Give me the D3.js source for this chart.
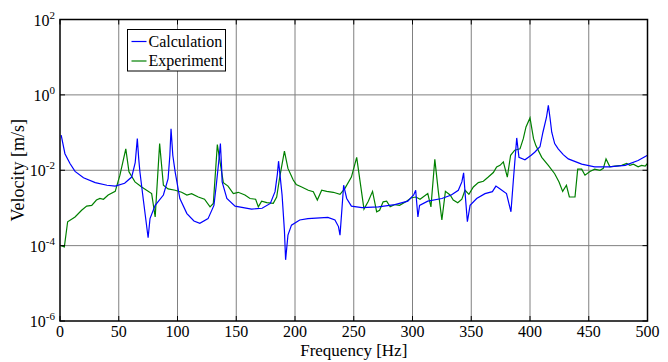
<!DOCTYPE html>
<html>
<head>
<meta charset="utf-8">
<script src="https://cdn.jsdelivr.net/npm/d3@7"></script>
<style>
  body { margin: 0; background: #fff; }
  svg { display: block; font-family: "Liberation Serif", "Times New Roman", serif; }
</style>
</head>
<body>
<div id="chart"></div>
<script>
// Calculation curve (blue): frequency [Hz] and velocity [m/s]
const calcFreq = [1, 4.2, 8.5, 12.8, 20, 30, 40, 47, 55, 61, 64, 65.8, 67, 68, 71, 75, 76.6, 81, 88, 92,
  93.5, 94.5, 96, 98, 102, 108, 114, 119, 126, 131, 133, 135, 136.5, 137.5, 138, 142, 149, 163, 172, 179,
  183, 185, 186, 187.5, 189, 191, 192, 194, 197, 204, 211, 228, 234, 237, 238.3, 240, 241.4, 244, 248, 257,
  271, 285, 296, 301, 302.7, 304.6, 306, 313, 325, 333, 339, 342, 343.5, 345, 346.7, 349, 354.6, 361.7, 368, 371,
  374, 380, 383.8, 386, 388.7, 390.6, 395.7, 401, 404, 408.5, 411, 414, 415.6, 417, 418.5, 421, 424, 428.3,
  432.6, 444, 455, 467, 481, 492, 500];
const calcVel = [8.5e-2, 2.75e-2, 1.51e-2, 9.3e-3, 6.3e-3, 4.7e-3, 4.0e-3, 3.8e-3, 4.5e-3, 6.6e-3, 1.58e-2, 6.9e-2, 2.0e-2, 9.1e-3, 1.58e-3, 1.62e-4, 5.2e-4, 1.17e-3, 2.2e-3, 6.0e-3,
  2.5e-2, 0.126, 2.5e-2, 9.1e-3, 1.78e-3, 7.1e-4, 4.5e-4, 3.9e-4, 5.2e-4, 1.17e-3, 4.0e-3, 1.58e-2, 5.1e-2, 1.26e-2, 4.9e-3, 1.78e-3, 1.12e-3, 9.3e-4, 9.8e-4, 1.32e-3,
  2.7e-3, 7.9e-3, 1.74e-2, 6.3e-3, 2.2e-3, 2.5e-4, 4.2e-5, 1.9e-4, 3.5e-4, 4.8e-4, 5.2e-4, 5.6e-4, 4.8e-4, 3.2e-4, 1.9e-4, 1.0e-3, 4.0e-3, 1.78e-3, 1.12e-3, 1.02e-3,
  1.07e-3, 1.23e-3, 1.51e-3, 2.2e-3, 2.95e-3, 5.75e-4, 1.17e-3, 1.51e-3, 1.78e-3, 2.2e-3, 2.95e-3, 4.9e-3, 8.5e-3, 2.0e-3, 4.3e-4, 1.17e-3, 1.78e-3, 2.4e-3, 2.7e-3, 3.8e-3,
  3.3e-3, 2.4e-3, 7.9e-4, 6.3e-3, 7.2e-2, 2.2e-2, 1.9e-2, 2.5e-2, 3.0e-2, 4.2e-2, 0.102, 0.251, 0.525, 0.251, 0.102, 5.1e-2, 3.7e-2, 2.6e-2,
  2.0e-2, 1.45e-2, 1.23e-2, 1.23e-2, 1.35e-2, 1.82e-2, 2.5e-2];

// Experiment curve (green)
const expFreq = [1, 3.7, 6.5, 12.8, 18.4, 22.7, 27, 31, 34, 37, 41, 47, 51, 56, 58.7, 63.8, 69.5, 78, 81, 84.8,
  88, 92, 98, 103.5, 108, 112, 117.7, 123, 127.7, 130.5, 133.9, 139, 143, 147.5, 151.7, 157.4, 161.7, 166.5, 168.8, 171.6,
  176, 181.5, 184.4, 187, 191, 194, 198.5, 201, 205.7, 211.3, 215.6, 219, 222.7, 227, 232.6, 238.3, 242.5, 248, 252.5, 258.7,
  262.4, 266, 269.5, 272, 275, 278, 281, 285, 289, 295, 299, 303, 306.4, 309, 313, 315.7, 319, 322, 325, 328,
  332, 334.7, 338.5, 342, 344.7, 348, 351.8, 356, 360.3, 364.5, 368.8, 371.6, 374.5, 377.3, 380.7, 383.5, 387, 391.5, 394.3, 396.6,
  400, 403, 405, 410, 415.6, 421, 424.7, 427.8, 431, 433.5, 438.3, 440.6, 444, 446.8, 451, 455, 459.6, 462.4, 464.7, 468,
  472.3, 478, 482.3, 485, 488, 492, 495, 498, 500];
const expVel = [1.0e-4, 9.3e-5, 4.3e-4, 5.75e-4, 8.7e-4, 1.12e-3, 1.17e-3, 1.62e-3, 1.78e-3, 1.7e-3, 2.2e-3, 2.75e-3, 7.4e-3, 3.7e-2, 9.1e-3, 4.9e-3, 3.6e-3, 2.4e-3, 5.75e-4, 5.1e-2,
  4.0e-3, 3.2e-3, 2.95e-3, 2.6e-3, 2.2e-3, 2.4e-3, 1.95e-3, 1.7e-3, 1.07e-3, 1.32e-3, 4.8e-2, 4.7e-3, 3.8e-3, 2.4e-3, 2.6e-3, 2.2e-3, 1.78e-3, 1.7e-3, 1.07e-3, 1.51e-3,
  1.38e-3, 1.32e-3, 1.95e-3, 6.6e-3, 3.2e-2, 1.12e-2, 5.5e-3, 4.2e-3, 3.6e-3, 2.95e-3, 2.7e-3, 1.62e-3, 2.95e-3, 2.75e-3, 2.6e-3, 2.3e-3, 3.3e-3, 6.6e-3, 2.2e-2, 9.3e-4,
  1.51e-3, 2.75e-3, 7.9e-4, 8.7e-4, 1.45e-3, 1.51e-3, 1.07e-3, 1.23e-3, 1.17e-3, 1.51e-3, 1.86e-3, 1.95e-3, 1.7e-3, 1.95e-3, 2.4e-3, 1.07e-3, 1.95e-2, 2.7e-3, 4.8e-4, 2.75e-3,
  2.2e-3, 1.62e-3, 1.38e-3, 1.7e-3, 2.95e-3, 2.3e-3, 3.6e-3, 4.7e-3, 5.1e-3, 6.6e-3, 8.7e-3, 1.23e-2, 1.35e-2, 1.66e-2, 6.6e-3, 2.5e-2, 3.4e-2, 3.7e-2, 6.9e-2, 0.141,
  0.245, 6.9e-2, 4.5e-2, 2.2e-2, 1.35e-2, 8.1e-3, 4.9e-3, 2.75e-3, 4.0e-3, 1.95e-3, 1.95e-3, 1.07e-2, 1.07e-2, 7.4e-3, 9.3e-3, 1.07e-2, 1.0e-2, 1.12e-2, 2.0e-2, 1.23e-2,
  1.29e-2, 1.35e-2, 1.51e-2, 1.35e-2, 1.45e-2, 1.23e-2, 1.35e-2, 1.29e-2, 1.51e-2];

const xTicks = [0, 50, 100, 150, 200, 250, 300, 350, 400, 450, 500];
const yTicks = [1e-6, 1e-4, 1e-2, 1e0, 1e2];
const seriesNames = ["Calculation", "Experiment"];

const width = 668, height = 362;
const margin = { top: 19.5, right: 20.5, bottom: 41, left: 60 };

const svg = d3.select("#chart").append("svg")
    .attr("width", width)
    .attr("height", height);

const x = d3.scaleLinear().domain([0, 500]).range([margin.left, width - margin.right]);
const y = d3.scaleLog().domain([1e-6, 1e2]).range([height - margin.bottom, margin.top]);

// grid
svg.append("g")
    .selectAll("line")
    .data(xTicks.slice(1, -1))
    .join("line")
    .attr("x1", d => x(d)).attr("x2", d => x(d))
    .attr("y1", y(1e2)).attr("y2", y(1e-6))
    .attr("stroke", "#808080").attr("stroke-width", 1);

svg.append("g")
    .selectAll("line")
    .data(yTicks.slice(1, -1))
    .join("line")
    .attr("x1", x(0)).attr("x2", x(500))
    .attr("y1", d => y(d)).attr("y2", d => y(d))
    .attr("stroke", "#808080").attr("stroke-width", 1);

// curves
svg.append("clipPath").attr("id", "plot-clip")
    .append("rect")
    .attr("x", x(0)).attr("y", y(1e2))
    .attr("width", x(500) - x(0)).attr("height", y(1e-6) - y(1e2));

const line = d3.line()
    .x(d => x(d[0]))
    .y(d => y(d[1]));

const plot = svg.append("g").attr("clip-path", "url(#plot-clip)");

plot.append("path")
    .datum(expFreq.map((f, i) => [f, expVel[i]]))
    .attr("d", line)
    .attr("fill", "none")
    .attr("stroke", "#008000")
    .attr("stroke-width", 1.2);

plot.append("path")
    .datum(calcFreq.map((f, i) => [f, calcVel[i]]))
    .attr("d", line)
    .attr("fill", "none")
    .attr("stroke", "#0000ff")
    .attr("stroke-width", 1.2);

// ticks inside the box
const tickLen = 5;
const ticks = svg.append("g").attr("stroke", "#000").attr("stroke-width", 1);
xTicks.forEach(d => {
    ticks.append("line").attr("x1", x(d)).attr("x2", x(d)).attr("y1", y(1e-6)).attr("y2", y(1e-6) - tickLen);
    ticks.append("line").attr("x1", x(d)).attr("x2", x(d)).attr("y1", y(1e2)).attr("y2", y(1e2) + tickLen);
});
yTicks.forEach(d => {
    ticks.append("line").attr("x1", x(0)).attr("x2", x(0) + tickLen).attr("y1", y(d)).attr("y2", y(d));
    ticks.append("line").attr("x1", x(500)).attr("x2", x(500) - tickLen).attr("y1", y(d)).attr("y2", y(d));
});

// axes box
svg.append("rect")
    .attr("x", x(0)).attr("y", y(1e2))
    .attr("width", x(500) - x(0)).attr("height", y(1e-6) - y(1e2))
    .attr("fill", "none")
    .attr("stroke", "#000")
    .attr("stroke-width", 1.5);

// tick labels
svg.append("g")
    .selectAll("text")
    .data(xTicks)
    .join("text")
    .attr("x", d => x(d))
    .attr("y", y(1e-6) + 16)
    .attr("text-anchor", "middle")
    .attr("font-size", 16)
    .text(d => d);

const yLab = svg.append("g")
    .selectAll("text")
    .data(yTicks)
    .join("text")
    .attr("x", x(0) - 5)
    .attr("y", d => y(d) + 6)
    .attr("text-anchor", "end")
    .attr("font-size", 16);
yLab.append("tspan").text("10");
yLab.append("tspan")
    .attr("dy", -7)
    .attr("font-size", 11)
    .text(d => Math.round(Math.log10(d)));

// axis titles
svg.append("text")
    .attr("x", (x(0) + x(500)) / 2)
    .attr("y", height - 6)
    .attr("text-anchor", "middle")
    .attr("font-size", 17)
    .text("Frequency [Hz]");

svg.append("text")
    .attr("transform", `translate(24,${(y(1e2) + y(1e-6)) / 2}) rotate(-90)`)
    .attr("text-anchor", "middle")
    .attr("font-size", 18)
    .text("Velocity [m/s]");

// legend
const legend = svg.append("g").attr("transform", "translate(127.5,29.5)");
legend.append("rect")
    .attr("width", 98).attr("height", 41.5)
    .attr("fill", "#fff")
    .attr("stroke", "#000")
    .attr("stroke-width", 1);
const legendColors = ["#0000ff", "#008000"];
seriesNames.forEach((name, i) => {
    const ly = 12 + i * 19.5;
    legend.append("line")
        .attr("x1", 4).attr("x2", 19)
        .attr("y1", ly).attr("y2", ly)
        .attr("stroke", legendColors[i])
        .attr("stroke-width", 1.2);
    legend.append("text")
        .attr("x", 21)
        .attr("y", ly + 5)
        .attr("font-size", 16)
        .text(name);
});
</script>
</body>
</html>
